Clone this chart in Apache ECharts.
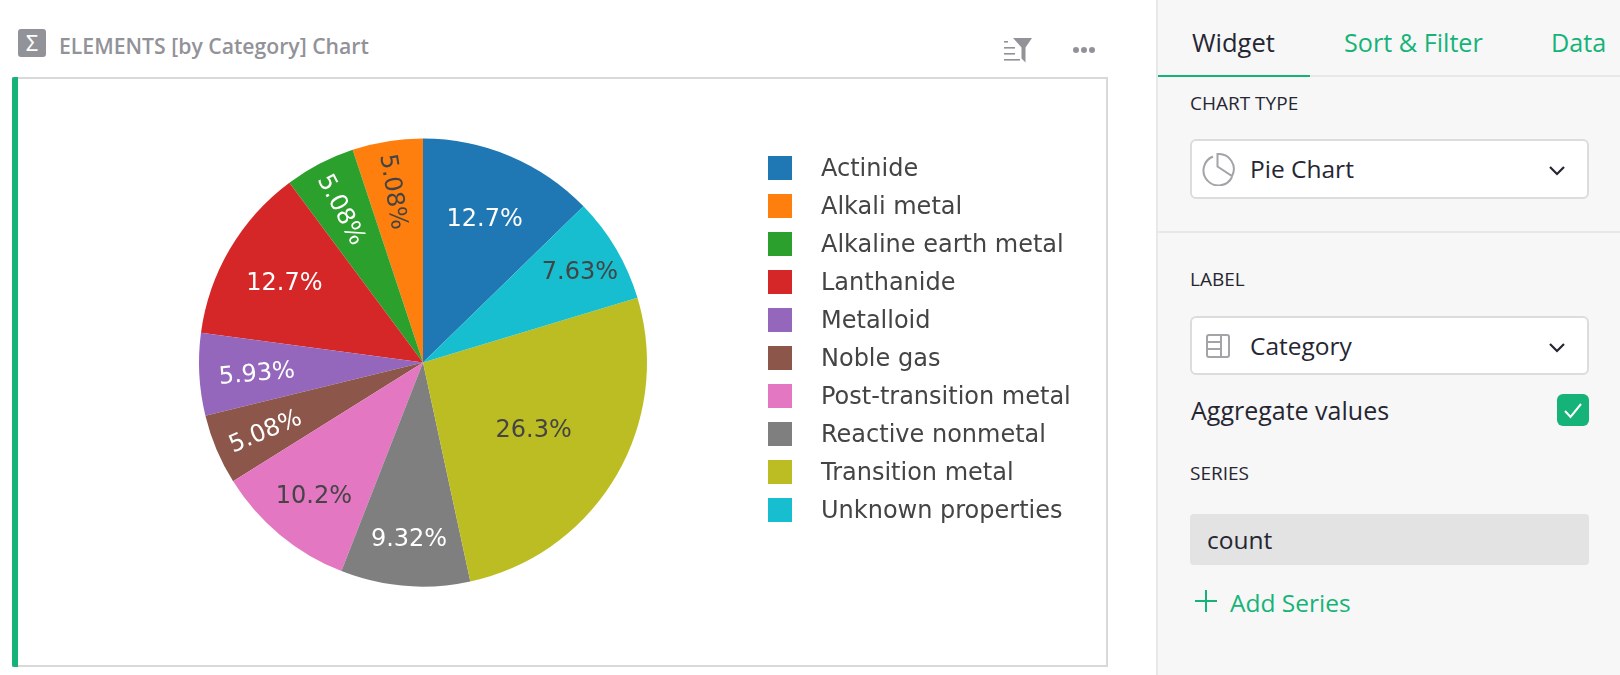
<!DOCTYPE html>
<html><head><meta charset="utf-8">
<script src="https://cdn.jsdelivr.net/npm/echarts@6/dist/echarts.min.js"></script>
<style>
html,body{margin:0;padding:0;width:1620px;height:675px;overflow:hidden;background:#fff;}
.a{position:absolute;white-space:nowrap;line-height:1;}
.ui{font-family:"Open Sans",sans-serif;color:#262633;}
.cap{font-size:19px;transform:translateY(-50%);}
.sel{position:absolute;left:1190px;width:395px;background:#fff;border:2px solid #dcdcdc;border-radius:6px;}
.big{font-size:24.5px;transform:translateY(-50%);}
.tab{font-size:25.2px;transform:translateY(-50%);}
.green{color:#16b378;}
</style></head>
<body>
<div class="a" style="left:18px;top:29px;width:28px;height:28px;background:#929299;border-radius:3px;color:#fff;font:22px/27px 'Noto Sans',sans-serif;text-align:center;">Σ</div>
<div class="a ui" style="left:59px;top:46px;transform:translateY(-50%);font-size:21.2px;font-weight:600;color:#929299;">ELEMENTS [by Category] Chart</div>
<svg class="a" style="left:1004px;top:38px" width="28" height="25" viewBox="0 0 28 25">
<g fill="#929299"><rect x="0" y="3" width="4" height="1.6"/><rect x="0" y="9" width="11" height="1.6"/><rect x="0" y="15" width="11" height="1.6"/><rect x="0" y="21" width="16" height="1.6"/><path d="M9 0H28L21.5 9.5V24.5L17.5 20.5V9.5Z"/></g></svg>
<svg class="a" style="left:1071px;top:44px" width="26" height="12"><g fill="#929299"><circle cx="5" cy="6" r="3"/><circle cx="13" cy="6" r="3"/><circle cx="21" cy="6" r="3"/></g></svg>
<div class="a" style="left:12px;top:77px;width:1096px;height:590px;box-sizing:border-box;background:#fff;border:2px solid #d9d9d9;border-left:none;"></div>
<div class="a" style="left:12px;top:77px;width:6px;height:590px;background:#16b378;border-radius:2px 0 0 2px;"></div>

<div class="a" style="left:1156px;top:0;width:464px;height:675px;background:#f7f7f7;border-left:2px solid #e8e8e8;box-sizing:border-box;"></div>
<div class="a" style="left:1158px;top:75px;width:462px;height:2px;background:#e8e8e8;"></div>
<div class="a" style="left:1158px;top:75px;width:152px;height:2px;background:#16b378;"></div>
<div class="a" style="left:1158px;top:231px;width:462px;height:2px;background:#e8e8e8;"></div>
<div class="a ui tab" style="left:1192px;top:43px;font-size:25.5px;">Widget</div>
<div class="a ui tab green" style="left:1344px;top:43px;">Sort &amp; Filter</div>
<div class="a ui tab green" style="left:1551px;top:43px;">Data</div>
<div class="a ui cap" style="left:1190px;top:103px;">CHART TYPE</div>
<div class="sel" style="top:139px;height:56px;"></div>
<svg class="a" style="left:1201px;top:152px" width="34" height="34" viewBox="0 0 34 34"><g fill="none" stroke="#a3a3a8" stroke-width="2"><path d="M12 4.5A15 15 0 1 0 31 25"/><path d="M16.5 2A15 15 0 0 1 31 24L16.5 14.5Z"/></g></svg>
<div class="a ui big" style="left:1250px;top:169px;">Pie Chart</div>
<svg class="a" style="left:1548px;top:165px" width="18" height="12"><path d="M2 2L9 9L16 2" fill="none" stroke="#262633" stroke-width="2.2"/></svg>
<div class="a ui cap" style="left:1190px;top:279px;">LABEL</div>
<div class="sel" style="top:316px;height:55px;"></div>
<svg class="a" style="left:1206px;top:334px" width="25" height="24" viewBox="0 0 25 24"><g fill="none" stroke="#a3a3a8" stroke-width="2"><rect x="1" y="1" width="22" height="22" rx="2"/><path d="M15 1V23M1 8H15M1 15H15"/></g></svg>
<div class="a ui big" style="left:1250px;top:346px;">Category</div>
<svg class="a" style="left:1548px;top:342px" width="18" height="12"><path d="M2 2L9 9L16 2" fill="none" stroke="#262633" stroke-width="2.2"/></svg>
<div class="a ui tab" style="left:1191px;top:410px;font-size:25px;">Aggregate values</div>
<svg class="a" style="left:1557px;top:394px" width="32" height="32" viewBox="0 0 32 32"><rect width="32" height="32" rx="6" fill="#16b378"/><path d="M8 17L13.5 23L24 10" fill="none" stroke="#fff" stroke-width="2"/></svg>
<div class="a ui cap" style="left:1190px;top:473px;">SERIES</div>
<div class="a" style="left:1190px;top:514px;width:399px;height:51px;background:#e3e3e3;border-radius:4px;"></div>
<div class="a ui big" style="left:1207px;top:540px;">count</div>
<svg class="a" style="left:1195px;top:590px" width="22" height="22"><path d="M11 0V22M0 11H22" stroke="#16b378" stroke-width="2" fill="none"/></svg>
<div class="a ui big green" style="left:1230px;top:603px;">Add Series</div>

<div id="chart" class="a" style="left:0;top:0;width:1620px;height:675px;"></div>
<script>
const categories = ["Actinide","Alkali metal","Alkaline earth metal","Lanthanide","Metalloid","Noble gas","Post-transition metal","Reactive nonmetal","Transition metal","Unknown properties"];
const counts = [15,6,6,15,7,6,12,11,31,9];
const percentLabels = ["12.7%","5.08%","5.08%","12.7%","5.93%","5.08%","10.2%","9.32%","26.3%","7.63%"];
const sliceColors = ["#1f77b4","#ff7f0e","#2ca02c","#d62728","#9467bd","#8c564b","#e377c2","#7f7f7f","#bcbd22","#17becf"];
const labelColors = ["#fff","#444","#fff","#fff","#fff","#fff","#444","#fff","#444","#444"];
const labelRotations = [0,-81,-62.5,0,5,23,0,0,0,0];
const labelRadialFractions = [0.695,0.76,0.76,0.705,0.73,0.755,0.75,0.767,0.56,0.80];
const labelDrop = 3;
const RADIUS = 224;
const total = counts.reduce((a,b)=>a+b,0);
// the first slice ends at twelve o'clock, the next ones continue counter-clockwise from there
const startAngle = 90 - counts[0]/total*360;
let run = -counts[0];
const midAngles = counts.map(v => { const m = (run + v/2)/total*2*Math.PI; run += v; return m; });

const chart = echarts.init(document.getElementById('chart'), null, {renderer:'canvas'});
chart.setOption({
  backgroundColor:'transparent',
  animation:false,
  color:sliceColors,
  legend:{
    orient:'vertical', left:768, top:156, padding:0,
    icon:'rect', itemWidth:24, itemHeight:24, itemGap:12,
    selectedMode:false,
    formatter:'{t|{name}}',
    textStyle:{fontFamily:'"DejaVu Sans",sans-serif', fontSize:24, color:'#444', padding:[0,0,0,24],
      rich:{t:{fontFamily:'"DejaVu Sans",sans-serif', fontSize:24, color:'#444', padding:[4,0,0,0]}}},
    data:categories
  },
  series:[{
    type:'pie',
    center:[423,362.5], radius:[0,RADIUS],
    startAngle, clockwise:false,
    avoidLabelOverlap:false, minShowLabelAngle:0, silent:true,
    labelLine:{show:false},
    itemStyle:{borderWidth:0},
    data:categories.map((name,i)=>({
      name, value:counts[i],
      itemStyle:{color:sliceColors[i]},
      label:{show:true, position:'inside', formatter:percentLabels[i], rotate:labelRotations[i],
        color:labelColors[i], fontSize:24, fontFamily:'"DejaVu Sans",sans-serif', textBorderWidth:0}
    })),
    labelLayout:(p)=>{
      const i=p.dataIndex, d=(labelRadialFractions[i]-0.5)*RADIUS;
      const sx=-Math.sin(midAngles[i])*d, sy=-Math.cos(midAngles[i])*d;
      // a rotated label takes dx/dy in its own rotated frame; the drop is along the label's own vertical
      const a=labelRotations[i]*Math.PI/180;
      return {dx:sx*Math.cos(a)-sy*Math.sin(a), dy:sx*Math.sin(a)+sy*Math.cos(a)+labelDrop};
    }
  }]
});
</script>
</body></html>
